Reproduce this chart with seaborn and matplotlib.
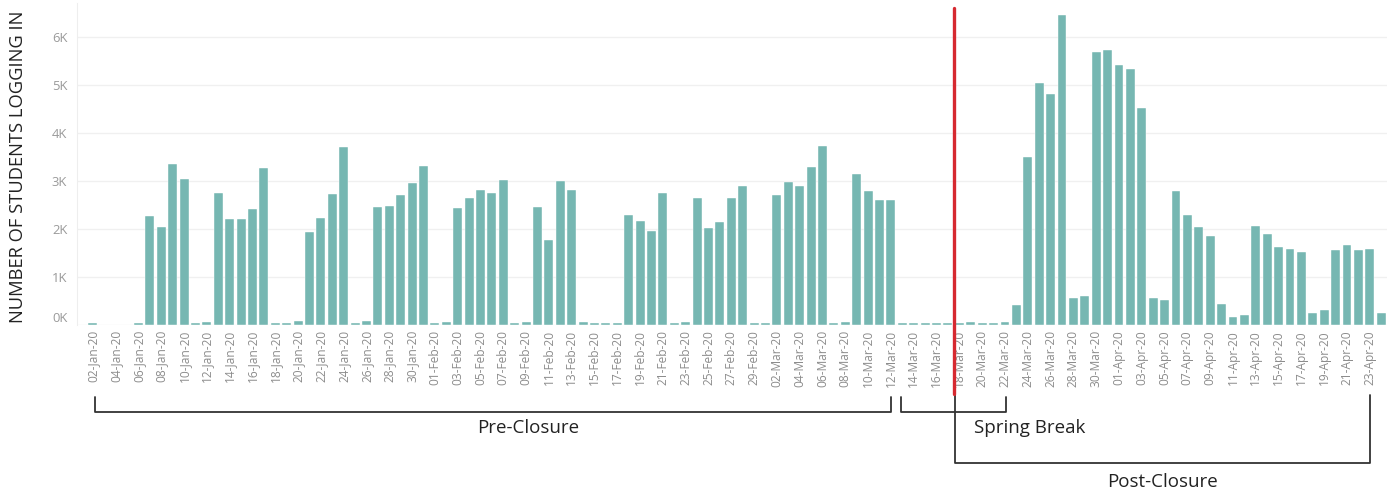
import pandas as pd
import matplotlib.pyplot as plt
import matplotlib.transforms as mtransforms
import seaborn as sns

# daily logins, 02-Jan-20 .. 24-Apr-20
dates = pd.date_range('2020-01-02', '2020-04-24', freq='D')
jan = [40, 0, 0, 0, 40, 2270, 2040, 3360, 3040, 40, 60, 2750, 2200, 2200, 2410,
       3270, 35, 35, 75, 1940, 2230, 2730, 3700, 40, 65, 2460, 2480, 2710, 2960, 3310]
feb = [30, 50, 2430, 2640, 2815, 2750, 3020, 40, 60, 2450, 1770, 3000, 2815, 60, 30,
       30, 40, 2290, 2170, 1960, 2750, 30, 60, 2640, 2015, 2150, 2640, 2900, 35]
mar = [35, 2710, 2980, 2900, 3295, 3720, 35, 60, 3150, 2790, 2600, 2600, 40, 40, 40,
       40, 40, 40, 60, 40, 40, 60, 410, 3500, 5035, 4805, 6460, 550, 590, 5685, 5725]
apr = [5410, 5330, 4515, 550, 505, 2790, 2290, 2035, 1850, 420, 150, 190, 2055, 1890,
       1620, 1575, 1515, 235, 295, 1555, 1660, 1555, 1575, 235]
students = jan + feb + mar + apr

labels = [d.strftime('%d-%b-%y') for d in dates]
df = pd.DataFrame({'date': labels, 'students': students})

sns.set_style('white')
plt.rcParams['font.family'] = ['Open Sans', 'DejaVu Sans']

fig = plt.figure(figsize=(13.92, 4.95), dpi=100)
ax = fig.add_axes([0.0553, 0.3444, 0.941, 0.6495])

sns.barplot(data=df, x='date', y='students', color='#76B7B2', saturation=1,
            width=0.78, edgecolor='white', linewidth=0.3, ax=ax)

ax.set_xlim(-1.4, 113.5)
ax.set_ylim(0, 6712)
ax.set_yticks([0, 1000, 2000, 3000, 4000, 5000, 6000])
ax.set_yticklabels([f'{v // 1000}K' for v in range(0, 7000, 1000)])
ax.yaxis.grid(True, color='#f0f0f0', linewidth=1)
ax.set_axisbelow(True)
ax.set_xticks(range(0, len(labels), 2))
ax.set_xticklabels(labels[::2], rotation=90)
ax.tick_params(axis='x', length=0, pad=4, labelsize=8.6, labelcolor='#8c8c8c')
ax.tick_params(axis='y', length=0, pad=7, labelsize=9.4, labelcolor='#9a9a9a')
# tableau nudges the bottom label up
lab0 = ax.get_yticklabels()[0]
lab0.set_transform(lab0.get_transform() + mtransforms.ScaledTranslation(0, 0.08, fig.dpi_scale_trans))
ax.set_xlabel('')
ax.set_ylabel('NUMBER OF STUDENTS LOGGING IN', fontsize=13.2, color='#222222')
ax.yaxis.set_label_coords(-0.0385, 0.49)
for s in ['top', 'right', 'bottom']:
    ax.spines[s].set_visible(False)
ax.spines['left'].set_color('#eeeeee')

# x in bar positions, y in axes fraction
tr = mtransforms.blended_transform_factory(ax.transData, ax.transAxes)
kw = dict(color='#333333', linewidth=1.3, transform=tr, clip_on=False)

# closure marker
ax.plot([75.55, 75.55], [0.984, -0.216], color='#D62930', linewidth=2.4,
        transform=tr, clip_on=False, zorder=5)

# brackets
ax.plot([0.2, 0.2, 70.0, 70.0], [-0.2255, -0.2706, -0.2706, -0.2255], **kw)
ax.plot([70.9, 70.9, 80.05, 80.05], [-0.2255, -0.2706, -0.2706, -0.2255], **kw)
ax.plot([75.6, 75.6, 112.0, 112.0], [-0.216, -0.4292, -0.4292, -0.219], **kw)

tkw = dict(transform=tr, fontsize=13.5, color='#222222', ha='center', va='center')
ax.text(38.2, -0.322, 'Pre-Closure', **tkw)
ax.text(82.2, -0.322, 'Spring Break', **tkw)
ax.text(93.8, -0.49, 'Post-Closure', **tkw)

fig.savefig('out.png', dpi=100)
